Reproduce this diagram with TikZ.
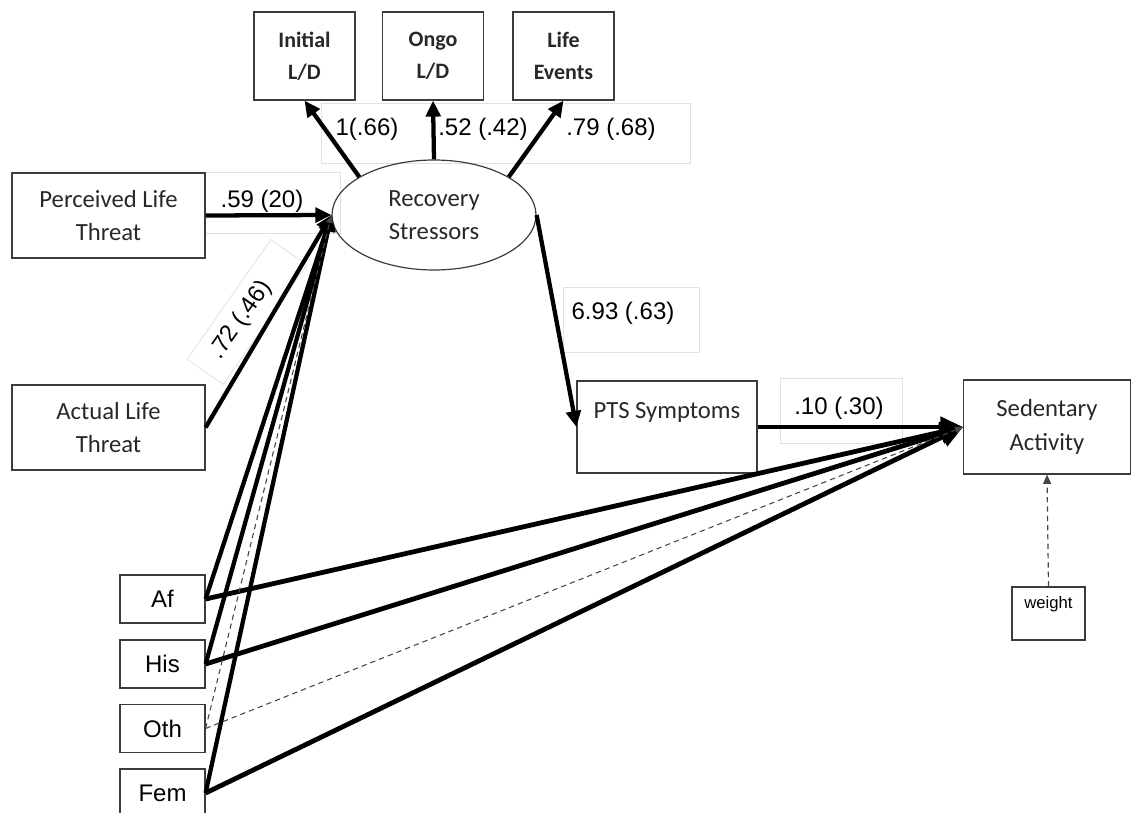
\documentclass[tikz,border=0pt]{standalone}
\usepackage{fontspec}
\setmainfont{Carlito}
\newfontfamily\arialfont{Liberation Sans}
\usetikzlibrary{arrows.meta,shapes.geometric}

\tikzset{every picture/.style={line width=0.75pt}}
\tikzset{
	varbox/.style={draw={rgb, 255:red, 60; green, 60; blue, 60 }, line width=0.9pt, align=center, inner sep=0pt, text={rgb, 255:red, 40; green, 40; blue, 40 }, font=\fontsize{18.5}{25}\selectfont},
	topbox/.style={varbox, minimum width=75.75pt, minimum height=66pt, font=\fontsize{16.5}{24}\selectfont\bfseries},
	catbox/.style={varbox, minimum width=63.75pt, minimum height=36pt, text=black, font=\arialfont\fontsize{18}{22}\selectfont},
	coef/.style={inner sep=0pt, text=black, font=\arialfont\fontsize{18}{22}\selectfont},
	labelframe/.style={draw={rgb, 255:red, 225; green, 225; blue, 225 }, line width=0.6pt},
	heavy/.style={line width=3.2pt, -{Triangle[length=12pt,width=11pt]}},
	heavier/.style={line width=3.6pt, -{Triangle[length=17pt,width=15pt]}},
	thinpath/.style={draw={rgb, 255:red, 70; green, 70; blue, 70 }, line width=0.8pt, dash pattern=on 4pt off 3pt}
}

\begin{document}
\begin{tikzpicture}[x=0.75pt,y=0.75pt,yscale=-1,xscale=1]
	\useasboundingbox (0,0) rectangle (1132,813);
	\clip (0,0) rectangle (1132,813);

	% Label frames
	\draw [labelframe] (321,103) rectangle (690,163) ;
	\draw [labelframe] (205,172) rectangle (340,233) ;
	\draw [labelframe] (563,287) rectangle (699,352) ;
	\draw [labelframe] (780,378) rectangle (902,443) ;
	\node [labelframe, rotate=55, minimum width=109.5pt, minimum height=33pt] (l5frame) at (247,312) {};

	% Indicators
	\node [topbox] (initld) at (304.5,56) {Initial\\L/D};
	\node [topbox] (ongold) at (433,56) {Ongo\\L/D};
	\node [topbox] (lifeev) at (563.5,56) {Life\\Events};

	% Latent
	\node [varbox, ellipse, minimum width=153pt, minimum height=82.5pt] (recov) at (434,215) {Recovery\\Stressors};

	% Predictors
	\node [varbox, minimum width=144.75pt, minimum height=63.75pt] (plt) at (108.5,215.5) {Perceived Life\\Threat};
	\node [varbox, minimum width=144.75pt, minimum height=63.75pt] (alt) at (108.5,427.5) {Actual Life\\Threat};
	\node [catbox] (af) at (162.5,599) {Af};
	\node [catbox] (his) at (162.5,664) {His};
	\node [catbox] (oth) at (162.5,728.5) {Oth};
	\node [catbox] (fem) at (162.5,793) {Fem};

	% Outcomes
	\node [varbox, minimum width=135pt, minimum height=69pt] (pts) at (667,427) {PTS Symptoms\\\mbox{}};
	\node [varbox, minimum width=125pt, minimum height=70.5pt] (sed) at (1047,427) {Sedentary\\Activity};
	\node [varbox, minimum width=54.75pt, minimum height=39.75pt, text=black, font=\arialfont\fontsize{12.5}{16}\selectfont] (weight) at (1048.5,613.5) {weight\\\mbox{}};

	% Loadings
	\draw [heavy] (recov.153) -- (initld.south) ;
	\draw [heavy] (recov.north) -- (ongold.south) ;
	\draw [heavy] (recov.27) -- (lifeev.south) ;

	% Paths
	\draw [heavy] (plt.east) -- (recov.west) ;
	\draw [heavy] (alt.east) -- (recov.west) ;
	\draw [heavy] (recov.east) -- (pts.west) ;
	\draw [heavier] (pts.east) -- (sed.west) ;
	\foreach \n in {af,his,fem} {
		\draw [heavy] (\n.east) -- (recov.west) ;
		\draw [heavier] (\n.east) -- (sed.west) ;
	}
	\draw [thinpath, -{Triangle[length=6pt,width=5pt]}] (oth.east) -- (recov.west) ;
	\draw [thinpath, -{Triangle[length=6pt,width=5pt]}] (oth.east) -- (sed.west) ;
	\draw [thinpath, line width=0.9pt, -{Triangle[length=7pt,width=6pt]}] (weight.north) -- (sed.south) ;

	% Text Node
	\node [coef] (l1) at (367,129) {1(.66)};
	\node [coef] (l2) at (483,129) {.52 (.42)};
	\node [coef] (l3) at (611,129) {.79 (.68)};
	\node [coef] (l4) at (262,201) {.59 (20)};
	\node [coef, rotate=55] (l5) at (241,320) {.72 (.46)};
	\node [coef] (l6) at (623,313) {6.93 (.63)};
	\node [coef] (l7) at (839,408) {.10 (.30)};

\end{tikzpicture}
\end{document}
